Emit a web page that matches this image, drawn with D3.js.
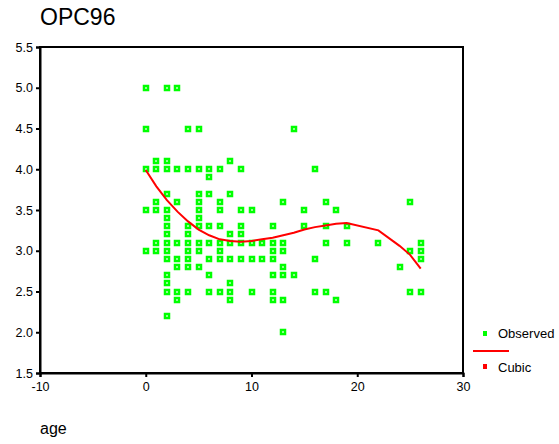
<!DOCTYPE html>
<html>
<head>
<meta charset="utf-8">
<script src="https://cdn.jsdelivr.net/npm/d3@7"></script>
<style>
  body { margin: 0; background: #fff; }
  text { font-family: "Liberation Sans", Arial, sans-serif; fill: #000; }
</style>
</head>
<body>
<script>
// observed OPC96 scores, grouped by age
var ages = [0, 1, 2, 3, 4, 5, 6, 7, 8, 9, 10, 11, 12, 13, 14, 15, 16, 17, 18, 19, 22, 24, 25, 26];
var scoresByAge = [
  [5.0, 4.5, 4.0, 3.5, 3.0],
  [4.1, 4.0, 3.6, 3.5, 3.1, 3.0],
  [5.0, 4.1, 4.0, 3.7, 3.5, 3.4, 3.3, 3.2, 3.1, 3.0, 2.9, 2.7, 2.6, 2.5, 2.2],
  [5.0, 4.0, 3.6, 3.1, 2.9, 2.8, 2.5, 2.4],
  [4.5, 4.0, 3.3, 3.2, 3.1, 3.0, 2.9, 2.8, 2.5],
  [4.5, 4.0, 3.7, 3.6, 3.5, 3.4, 3.3, 3.1, 3.0, 2.8],
  [4.0, 3.9, 3.7, 3.3, 3.1, 2.9, 2.7, 2.5],
  [4.0, 3.6, 3.5, 3.3, 3.1, 3.0, 2.9, 2.5],
  [4.1, 3.7, 3.2, 3.1, 2.9, 2.6, 2.5, 2.4],
  [4.0, 3.5, 3.3, 3.2, 3.1, 2.9],
  [3.5, 3.1, 2.9, 2.5],
  [3.1, 2.9],
  [3.3, 3.1, 3.0, 2.9, 2.7, 2.5, 2.4],
  [3.6, 3.1, 3.0, 2.8, 2.7, 2.4, 2.0],
  [4.5, 2.7],
  [3.5, 3.3],
  [4.0, 2.9, 2.5],
  [3.6, 3.3, 3.1, 2.5],
  [3.5, 2.4],
  [3.3, 3.1],
  [3.1],
  [2.8],
  [3.6, 3.0, 2.5],
  [3.1, 3.0, 2.9, 2.5]
];

// cubic fit, read at each observed age
var cubicValues = [3.99, 3.79, 3.62, 3.48, 3.36, 3.26, 3.19, 3.14, 3.12, 3.11, 3.12, 3.14,
                   3.16, 3.19, 3.22, 3.26, 3.29, 3.31, 3.33, 3.34, 3.25, 3.06, 2.95, 2.78];

var xTicks = [-10, 0, 10, 20, 30];
var yTicks = [1.5, 2.0, 2.5, 3.0, 3.5, 4.0, 4.5, 5.0, 5.5];

var svg = d3.select("body").append("svg").attr("width", 559).attr("height", 444);

var x = d3.scaleLinear().domain([-10, 30]).range([40, 463]);
var y = d3.scaleLinear().domain([1.5, 5.5]).range([373, 47]);

// title
svg.append("text")
  .attr("x", 40).attr("y", 25)
  .style("font-size", "23px")
  .text("OPC96");

// frame
svg.append("rect")
  .attr("x", x(-10)).attr("y", y(5.5))
  .attr("width", x(30) - x(-10)).attr("height", y(1.5) - y(5.5))
  .attr("fill", "none").attr("stroke", "#000").attr("stroke-width", 2);

// axes (plain hyphen for negatives, like the original)
var xAxis = svg.append("g")
  .attr("transform", "translate(0," + y(1.5) + ")")
  .call(d3.axisBottom(x).tickValues(xTicks).tickSize(4).tickPadding(5)
    .tickFormat(function (d) { return String(d); }));
var yAxis = svg.append("g")
  .attr("transform", "translate(" + x(-10) + ",0)")
  .call(d3.axisLeft(y).tickValues(yTicks).tickSize(4).tickPadding(3)
    .tickFormat(function (d) { return d.toFixed(1); }));

[xAxis, yAxis].forEach(function (g) {
  g.select(".domain").attr("stroke-width", 2);
  g.selectAll(".tick line").attr("stroke-width", 2);
  g.selectAll(".tick text").style("font-size", "12.5px").attr("font-family", null);
});

// x label
svg.append("text")
  .attr("x", 40).attr("y", 434)
  .style("font-size", "16px")
  .text("age");

// observed points
var points = [];
ages.forEach(function (a, i) {
  scoresByAge[i].forEach(function (v) { points.push({age: a, score: v}); });
});

svg.append("g").selectAll("rect")
  .data(points)
  .enter().append("rect")
  .attr("x", function (d) { return Math.round(x(d.age)) - 2; })
  .attr("y", function (d) { return Math.round(y(d.score)) - 2; })
  .attr("width", 4).attr("height", 4)
  .attr("fill", "#fff")
  .attr("stroke", "#00ff00")
  .attr("stroke-width", 2.5);

// cubic line
var line = d3.line()
  .x(function (d, i) { return x(ages[i]); })
  .y(function (d) { return y(d); });

svg.append("path")
  .datum(cubicValues)
  .attr("d", line)
  .attr("fill", "none")
  .attr("stroke", "#ff0000")
  .attr("stroke-width", 2);

// legend
svg.append("rect").attr("x", 483).attr("y", 331).attr("width", 4).attr("height", 5).attr("fill", "#00ff00");
svg.append("text").attr("x", 498).attr("y", 338).style("font-size", "13px").text("Observed");
svg.append("line").attr("x1", 473).attr("x2", 509).attr("y1", 351).attr("y2", 351)
  .attr("stroke", "#ff0000").attr("stroke-width", 2);
svg.append("rect").attr("x", 483).attr("y", 364).attr("width", 4).attr("height", 5).attr("fill", "#ff0000");
svg.append("text").attr("x", 498).attr("y", 372).style("font-size", "13px").text("Cubic");
</script>
</body>
</html>
